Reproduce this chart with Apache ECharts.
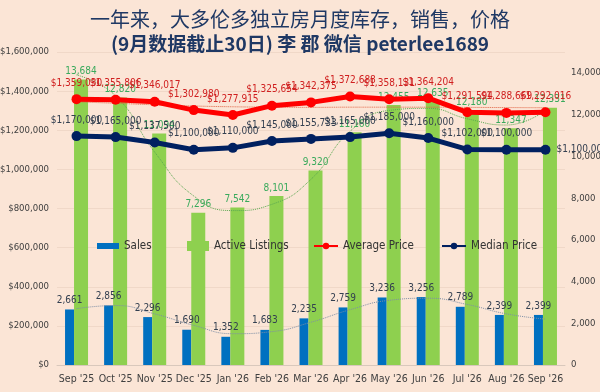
<!DOCTYPE html>
<html>
<head>
<meta charset="utf-8">
<script src="https://cdn.jsdelivr.net/npm/echarts@6/dist/echarts.min.js"></script>
<style>
  html, body { margin: 0; padding: 0; background: #fbe5d6; }
  #chart { width: 600px; height: 392px; }
</style>
</head>
<body>
<div id="chart"></div>
<script>
// 月份
var months = ["Sep '25", "Oct '25", "Nov '25", "Dec '25", "Jan '26", "Feb '26", "Mar '26", "Apr '26", "May '26", "Jun '26", "Jul '26", "Aug '26", "Sep '26"]
// 销售 / 库存
var sales = [2661, 2856, 2296, 1690, 1352, 1683, 2235, 2759, 3236, 3256, 2789, 2399, 2399]
var listings = [13684, 12820, 11094, 7296, 7542, 8101, 9320, 11160, 12455, 12635, 12180, 11347, 12331]
// 价格
var avgPrice = [1359030, 1355806, 1346017, 1302980, 1277915, 1325654, 1342375, 1372688, 1358131, 1364204, 1291594, 1288669, 1292016]
var medianPrice = [1170000, 1165000, 1137500, 1100000, 1110000, 1145000, 1155733, 1165000, 1185000, 1160000, 1102000, 1100000, 1100000]
// 趋势线
var listingsTrend = [13900, 12900, 10200, 8100, 7400, 7700, 8900, 11200, 12200, 12300, 11800, 11500, 12200]
var salesTrend = [2700, 2850, 2450, 1900, 1500, 1600, 2050, 2650, 3100, 3200, 2900, 2450, 2200]
var avgTrend = [1345000, 1338000, 1330000, 1324000, 1320000, 1318000, 1317000, 1318000, 1318000, 1318000, 1317000, 1316000, 1315000]

var chart = echarts.init(document.getElementById('chart'))

function money (v) {
  return '$' + Number(v).toLocaleString('en-US')
}

var baseFont = '"Liberation Sans Narrow", "DejaVu Sans Condensed", sans-serif'
var fs = 10.5   // 横轴
var ls = 9.5    // 纵轴 / 数据标签

var option = {
  backgroundColor: '#fbe5d6',
  animation: false,
  textStyle: { fontFamily: baseFont },
  title: [
    {
      text: '一年来，大多伦多独立房月度库存，销售，价格',
      left: 'center',
      top: 4,
      textStyle: { fontFamily: '"Noto Sans CJK SC", sans-serif', fontSize: 20, fontWeight: 'normal', color: '#1f3864' }
    },
    {
      text: '(9月数据截止30日) 李 郡 微信 peterlee1689',
      left: 'center',
      top: 29,
      textStyle: { fontFamily: '"Noto Sans CJK SC", sans-serif', fontSize: 19, fontWeight: 'bold', color: '#1f3864' }
    }
  ],
  legend: [
    {
      left: 92, top: 235, itemWidth: 22, itemHeight: 6,
      data: [{ name: 'Sales', icon: 'rect' }],
      textStyle: { fontSize: 11.5, color: '#333', fontFamily: baseFont }
    },
    {
      left: 182, top: 235, itemWidth: 22, itemHeight: 10,
      data: [{ name: 'Active Listings', icon: 'rect' }],
      textStyle: { fontSize: 11.5, color: '#333', fontFamily: baseFont }
    },
    {
      left: 308, top: 235, itemWidth: 24, itemHeight: 8,
      data: ['Average Price'],
      textStyle: { fontSize: 11.5, color: '#333', fontFamily: baseFont }
    },
    {
      left: 436, top: 235, itemWidth: 24, itemHeight: 8,
      data: ['Median Price'],
      textStyle: { fontSize: 11.5, color: '#333', fontFamily: baseFont }
    }
  ],
  grid: { left: 57, right: 35, top: 52, bottom: 27, containLabel: false, outerBoundsMode: 'none' },
  xAxis: {
    type: 'category',
    data: months,
    axisTick: { show: false },
    axisLine: { show: true, lineStyle: { color: '#d9c8bc' } },
    axisLabel: { fontSize: fs, color: '#404040', margin: 9, interval: 0, fontFamily: baseFont }
  },
  yAxis: [
    {
      type: 'value',
      min: 0,
      max: 1600000,
      interval: 200000,
      axisLabel: { fontSize: ls, color: '#404040', formatter: money, fontFamily: baseFont, margin: 8 },
      splitLine: { lineStyle: { color: '#f0d8c8', width: 1 } }
    },
    {
      type: 'value',
      min: 0,
      max: 15000,
      interval: 2000,
      axisLabel: {
        fontSize: ls, color: '#404040', showMaxLabel: false, fontFamily: baseFont, margin: 6,
        formatter: function (v) { return Number(v).toLocaleString('en-US') }
      },
      splitLine: { show: false }
    }
  ],
  series: [
    {
      name: 'Sales',
      type: 'bar',
      yAxisIndex: 1,
      data: sales,
      barWidth: 9,
      barGap: '0%',
      itemStyle: { color: '#0070c0' },
      label: { show: true, position: 'top', fontSize: ls + 0.5, color: '#333f50', distance: 4, fontFamily: baseFont,
        formatter: function (p) { return p.value.toLocaleString('en-US') } },
      z: 2
    },
    {
      name: 'Active Listings',
      type: 'bar',
      yAxisIndex: 1,
      data: listings,
      barWidth: 14,
      barGap: '0%',
      itemStyle: { color: '#8ed04f' },
      label: { show: true, position: 'top', fontSize: ls + 0.5, color: '#3aaa5c', distance: 3, fontFamily: baseFont,
        formatter: function (p) { return p.value.toLocaleString('en-US') } },
      z: 2
    },
    {
      name: 'listingsTrend',
      type: 'line',
      yAxisIndex: 1,
      data: listingsTrend,
      smooth: true,
      symbol: 'none',
      silent: true,
      lineStyle: { color: '#5aa850', width: 1, type: 'dotted' },
      z: 3
    },
    {
      name: 'salesTrend',
      type: 'line',
      yAxisIndex: 1,
      data: salesTrend,
      smooth: true,
      symbol: 'none',
      silent: true,
      lineStyle: { color: '#7f8fa6', width: 1, type: 'dotted' },
      z: 3
    },
    {
      name: 'avgTrend',
      type: 'line',
      yAxisIndex: 0,
      data: avgTrend,
      smooth: true,
      symbol: 'none',
      silent: true,
      lineStyle: { color: '#e06040', width: 1, type: 'dotted' },
      z: 3
    },
    {
      name: 'Average Price',
      type: 'line',
      yAxisIndex: 0,
      data: avgPrice,
      symbol: 'circle',
      symbolSize: 10,
      lineStyle: { color: '#ff0000', width: 5 },
      itemStyle: { color: '#ff0000' },
      label: { show: true, position: 'top', fontSize: ls + 0.5, color: '#d02020', distance: 6, fontFamily: baseFont,
        formatter: function (p) { return money(p.value) } },
      z: 5
    },
    {
      name: 'Median Price',
      type: 'line',
      yAxisIndex: 0,
      data: medianPrice.map(function (v, i) {
        if (i === medianPrice.length - 1) {
          return { value: v, label: { position: 'right', distance: 6 } }
        }
        return v
      }),
      symbol: 'circle',
      symbolSize: 10,
      lineStyle: { color: '#002060', width: 5 },
      itemStyle: { color: '#002060' },
      label: { show: true, position: 'top', fontSize: ls + 0.5, color: '#333f50', distance: 6, fontFamily: baseFont,
        formatter: function (p) { return money(p.value) } },
      z: 5
    }
  ]
}

chart.setOption(option)
</script>
</body>
</html>
